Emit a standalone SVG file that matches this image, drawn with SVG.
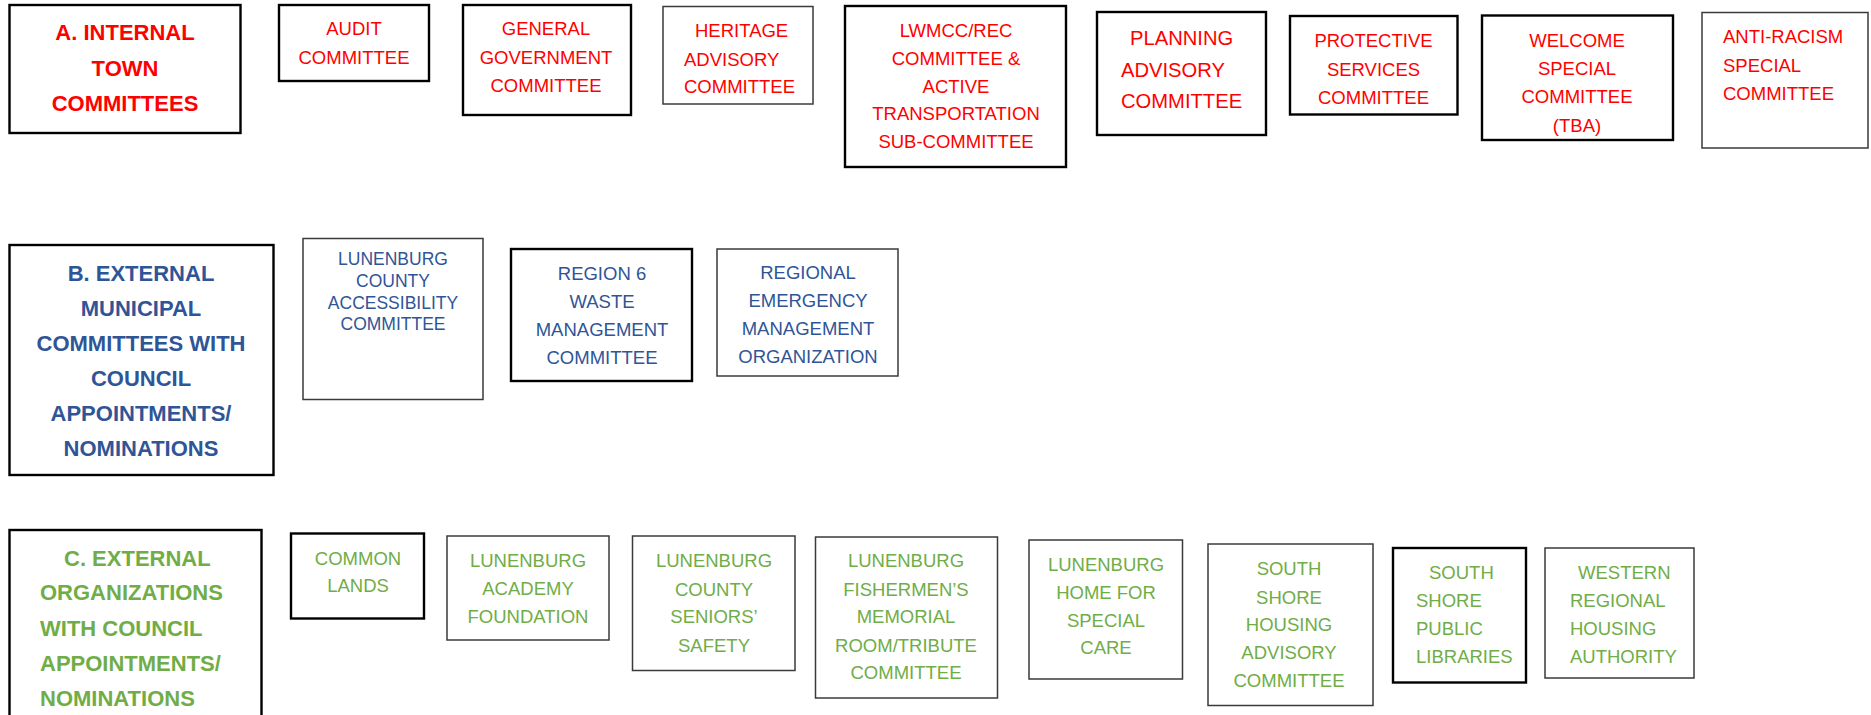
<svg xmlns="http://www.w3.org/2000/svg" width="1871" height="715" viewBox="0 0 1871 715">
<style>
rect{fill:#fff;stroke:#000}
.k rect{stroke-width:2.4}
.t rect{stroke-width:1.5;stroke:#3a3a3a}
text{font-family:"Liberation Sans",Arial,sans-serif;font-size:18.5px}
.c{text-anchor:middle}
.r text{fill:#ff0000}
.b text{fill:#2f5597}
.g text{fill:#70ad47}
.h{font-weight:bold;font-size:22px}
.p{font-size:20.2px}
</style>
<rect x="0" y="0" width="1871" height="715" style="stroke:none"/>
<g id="connectors"/>
<g class="r">
<g id="nA" class="k"><rect x="9.5" y="5" width="231" height="128"/>
<text class="c h" x="125" y="40">A. INTERNAL</text><text class="c h" x="125" y="76">TOWN</text><text class="c h" x="125" y="111">COMMITTEES</text></g>
<g id="nAudit" class="k"><rect x="279" y="5" width="150" height="76"/>
<text class="c" x="354" y="35">AUDIT</text><text class="c" x="354" y="64">COMMITTEE</text></g>
<g id="nGeneral" class="k"><rect x="463" y="5" width="168" height="110"/>
<text class="c" x="546" y="35">GENERAL</text><text class="c" x="546" y="64">GOVERNMENT</text><text class="c" x="546" y="92">COMMITTEE</text></g>
<g id="nHeritage" class="t"><rect x="663" y="6.5" width="150" height="97.5"/>
<text x="695" y="37">HERITAGE</text><text x="684" y="66">ADVISORY</text><text x="684" y="93">COMMITTEE</text></g>
<g id="nLwmcc" class="k"><rect x="845" y="6" width="221" height="161"/>
<text class="c" x="956" y="37">LWMCC/REC</text><text class="c" x="956" y="65">COMMITTEE &amp;</text><text class="c" x="956" y="92.5">ACTIVE</text><text class="c" x="956" y="120">TRANSPORTATION</text><text class="c" x="956" y="148">SUB-COMMITTEE</text></g>
<g id="nPlanning" class="k"><rect x="1097" y="12" width="169" height="123"/>
<text class="p" x="1130" y="44.5">PLANNING</text><text class="p" x="1121" y="76.5">ADVISORY</text><text class="p" x="1121" y="108">COMMITTEE</text></g>
<g id="nProtective" class="k"><rect x="1290" y="16" width="167.5" height="98.5"/>
<text class="c" x="1373.5" y="47">PROTECTIVE</text><text class="c" x="1373.5" y="75.5">SERVICES</text><text class="c" x="1373.5" y="104">COMMITTEE</text></g>
<g id="nWelcome" class="k"><rect x="1482" y="15.5" width="191" height="124.5"/>
<text class="c" x="1577" y="46.5">WELCOME</text><text class="c" x="1577" y="75">SPECIAL</text><text class="c" x="1577" y="103">COMMITTEE</text><text class="c" x="1577" y="131.5">(TBA)</text></g>
<g id="nAntiRacism" class="t"><rect x="1702" y="12.5" width="166" height="135.5"/>
<text x="1723" y="43">ANTI-RACISM</text><text x="1723" y="72">SPECIAL</text><text x="1723" y="100">COMMITTEE</text></g>
</g>
<g class="b">
<g id="nB" class="k"><rect x="9.5" y="245" width="264" height="230"/>
<text class="c h" x="141" y="281">B. EXTERNAL</text><text class="c h" x="141" y="316">MUNICIPAL</text><text class="c h" x="141" y="351">COMMITTEES WITH</text><text class="c h" x="141" y="386">COUNCIL</text><text class="c h" x="141" y="421">APPOINTMENTS/</text><text class="c h" x="141" y="456">NOMINATIONS</text></g>
<g id="nAccess" class="t"><rect x="303" y="238.5" width="180" height="161"/>
<text class="c" x="393" y="264.5" style="font-size:17.5px">LUNENBURG</text><text class="c" x="393" y="286.5" style="font-size:17.5px">COUNTY</text><text class="c" x="393" y="308.5" style="font-size:17.5px">ACCESSIBILITY</text><text class="c" x="393" y="329.5" style="font-size:17.5px">COMMITTEE</text></g>
<g id="nRegion6" class="k"><rect x="511" y="249" width="181" height="132"/>
<text class="c" x="602" y="280">REGION 6</text><text class="c" x="602" y="308">WASTE</text><text class="c" x="602" y="336">MANAGEMENT</text><text class="c" x="602" y="364">COMMITTEE</text></g>
<g id="nRegional" class="t"><rect x="717" y="249" width="181" height="127"/>
<text class="c" x="808" y="279">REGIONAL</text><text class="c" x="808" y="306.5">EMERGENCY</text><text class="c" x="808" y="335">MANAGEMENT</text><text class="c" x="808" y="363">ORGANIZATION</text></g>
</g>
<g class="g">
<g id="nC" class="k"><rect x="9.5" y="530" width="252" height="200"/>
<text class="h" x="64" y="566">C. EXTERNAL</text><text class="h" x="40" y="600">ORGANIZATIONS</text><text class="h" x="40" y="636">WITH COUNCIL</text><text class="h" x="40" y="671">APPOINTMENTS/</text><text class="h" x="40" y="706">NOMINATIONS</text></g>
<g id="nCommon" class="k"><rect x="291" y="533.5" width="133" height="85"/>
<text class="c" x="358" y="565">COMMON</text><text class="c" x="358" y="591.5">LANDS</text></g>
<g id="nAcademy" class="t"><rect x="447" y="536" width="162" height="104"/>
<text class="c" x="528" y="566.5">LUNENBURG</text><text class="c" x="528" y="595">ACADEMY</text><text class="c" x="528" y="622.5">FOUNDATION</text></g>
<g id="nSeniors" class="t"><rect x="632.5" y="536" width="162.5" height="134.5"/>
<text class="c" x="714" y="567">LUNENBURG</text><text class="c" x="714" y="595.5">COUNTY</text><text class="c" x="714" y="623">SENIORS’</text><text class="c" x="714" y="651.5">SAFETY</text></g>
<g id="nFishermen" class="t"><rect x="815.5" y="537" width="182" height="161"/>
<text class="c" x="906" y="567">LUNENBURG</text><text class="c" x="906" y="596">FISHERMEN’S</text><text class="c" x="906" y="623">MEMORIAL</text><text class="c" x="906" y="651.5">ROOM/TRIBUTE</text><text class="c" x="906" y="679">COMMITTEE</text></g>
<g id="nHome" class="t"><rect x="1029" y="540" width="153.5" height="139"/>
<text class="c" x="1106" y="571">LUNENBURG</text><text class="c" x="1106" y="599">HOME FOR</text><text class="c" x="1106" y="626.5">SPECIAL</text><text class="c" x="1106" y="654">CARE</text></g>
<g id="nSSHousing" class="t"><rect x="1208" y="544" width="165" height="161.5"/>
<text class="c" x="1289" y="575">SOUTH</text><text class="c" x="1289" y="603.5">SHORE</text><text class="c" x="1289" y="631">HOUSING</text><text class="c" x="1289" y="659">ADVISORY</text><text class="c" x="1289" y="687">COMMITTEE</text></g>
<g id="nLibraries" class="k"><rect x="1393" y="548" width="133" height="134.5"/>
<text x="1429" y="579">SOUTH</text><text x="1416" y="606.5">SHORE</text><text x="1416" y="635">PUBLIC</text><text x="1416" y="662.5">LIBRARIES</text></g>
<g id="nWestern" class="t"><rect x="1545" y="548" width="149" height="130"/>
<text x="1578" y="579">WESTERN</text><text x="1570" y="606.5">REGIONAL</text><text x="1570" y="635">HOUSING</text><text x="1570" y="662.5">AUTHORITY</text></g>
</g>
</svg>
